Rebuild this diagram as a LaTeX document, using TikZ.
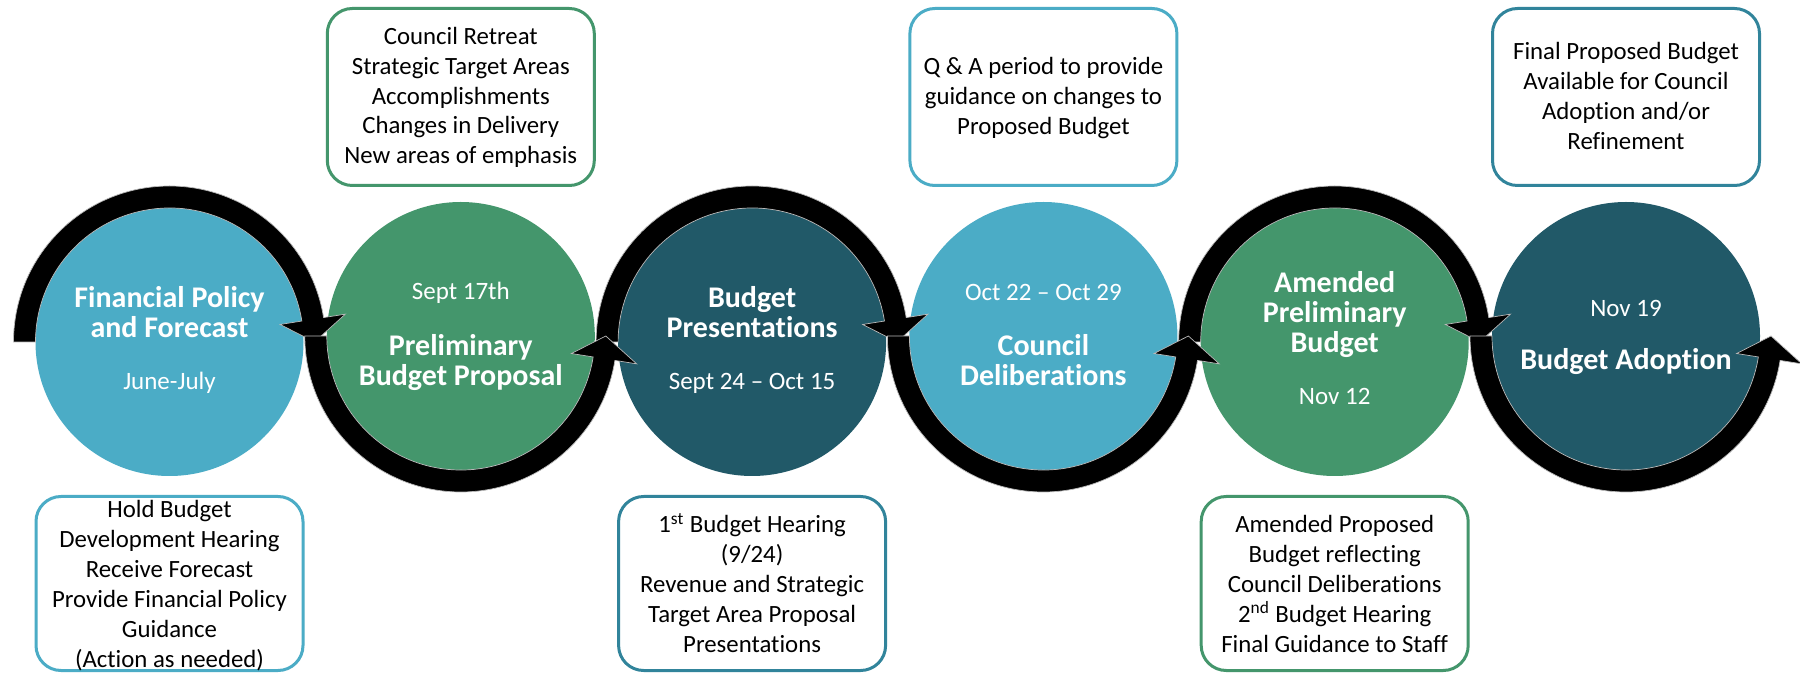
\documentclass[tikz,border=0pt]{standalone}
\usepackage{fontspec}
\setmainfont{Carlito}[Ligatures=NoCommon]
\definecolor{cblue}{HTML}{4BACC6}
\definecolor{cgreen}{HTML}{44966C}
\definecolor{cdark}{HTML}{215968}
\definecolor{cteal}{HTML}{31849B}
\tikzset{
  phase/.style={circle, minimum size=134pt, inner sep=0pt, draw=none},
  infobox/.style={draw, rounded corners=12.5pt, line width=1.5pt, minimum width=133.5pt, fill=white, inner sep=0pt},
  topbox/.style={infobox, minimum height=88.5pt},
  botbox/.style={infobox, minimum height=87pt},
  boxtext/.style={font=\fontsize{12.4}{15}\selectfont, anchor=base, inner sep=0pt},
  titletext/.style={font=\fontsize{15}{15}\selectfont\bfseries, text=white, anchor=base, inner sep=0pt},
  datetext/.style={font=\fontsize{12.5}{15}\selectfont, text=white, anchor=base, inner sep=0pt},
  ring/.style={fill=black, draw=gray!55, line width=0.35pt},
}
\begin{document}
\begin{tikzpicture}[x=0.5pt,y=-0.5pt]
\fill[white] (0,0) rectangle (1800,673);
\useasboundingbox (0,0) rectangle (1800,673);
\clip (0,0) rectangle (1800,673);

% info boxes
\node[topbox, draw=cgreen] (tb1) at (460.8,97) {};
\node[topbox, draw=cblue]  (tb2) at (1043.4,97) {};
\node[topbox, draw=cteal]  (tb3) at (1626,97) {};
\node[botbox, draw=cblue]  (bb1) at (169.5,583.5) {};
\node[botbox, draw=cteal]  (bb2) at (752.1,583.5) {};
\node[botbox, draw=cgreen] (bb3) at (1334.7,583.5) {};

\foreach \t [count=\i from 0] in {{Council Retreat},{Strategic Target Areas},{Accomplishments},{Changes in Delivery},{New areas of emphasis}}
  \node[boxtext] (tb1-\i) at (460.8,45+29.6*\i) {\t};
\foreach \t [count=\i from 0] in {{Q \& A period to provide},{guidance on changes to},{Proposed Budget}}
  \node[boxtext] (tb2-\i) at (1043.4,75+29.8*\i) {\t};
\foreach \t [count=\i from 0] in {{Final Proposed Budget},{Available for Council},{Adoption and/or},{Refinement}}
  \node[boxtext] (tb3-\i) at (1626,60+29.8*\i) {\t};
\foreach \t [count=\i from 0] in {{Hold Budget},{Development Hearing},{Receive Forecast},{Provide Financial Policy},{Guidance},{(Action as needed)}}
  \node[boxtext] (bb1-\i) at (169.5,518+29.8*\i) {\t};
\foreach \t [count=\i from 0] in {{1\textsuperscript{st} Budget Hearing},{(9/24)},{Revenue and Strategic},{Target Area Proposal},{Presentations}}
  \node[boxtext] (bb2-\i) at (752.1,533+29.8*\i) {\t};
\foreach \t [count=\i from 0] in {{Amended Proposed},{Budget reflecting},{Council Deliberations},{2\textsuperscript{nd} Budget Hearing},{Final Guidance to Staff}}
  \node[boxtext] (bb3-\i) at (1334.7,533+29.8*\i) {\t};

% phase circles
\node[phase, fill=cblue]  (c1) at (169.5,342) {};
\node[phase, fill=cgreen] (c2) at (460.8,336) {};
\node[phase, fill=cdark]  (c3) at (752.1,342) {};
\node[phase, fill=cblue]  (c4) at (1043.4,336) {};
\node[phase, fill=cgreen] (c5) at (1334.7,342) {};
\node[phase, fill=cdark]  (c6) at (1626,336) {};

% circular arrows: odd ones over the top, even ones under the bottom
\foreach \c in {c1,c3,c5}{
  \begin{scope}[shift={(\c.center)}, yscale=-1]
    \filldraw[ring] (180:156) arc[start angle=180, end angle=9, radius=156]
      -- (9:178) -- (0:145) -- (9:112) -- (9:134)
      arc[start angle=9, end angle=180, radius=134] -- cycle;
  \end{scope}
}
\foreach \c in {c2,c4,c6}{
  \begin{scope}[shift={(\c.center)}, yscale=-1]
    \filldraw[ring] (180:156) arc[start angle=180, end angle=351, radius=156]
      -- (351:178) -- (0:145) -- (351:112) -- (351:134)
      arc[start angle=351, end angle=180, radius=134] -- cycle;
  \end{scope}
}

% circle texts
\node[titletext] (c1a) at (169.5,308) {Financial Policy};
\node[titletext] (c1b) at (169.5,338) {and Forecast};
\node[datetext]  (c1d) at (169.5,390) {June-July};

\node[datetext]  (c2d) at (460.8,300) {Sept 17th};
\node[titletext] (c2a) at (460.8,356) {Preliminary};
\node[titletext] (c2b) at (460.8,386) {Budget Proposal};

\node[titletext] (c3a) at (752.1,308) {Budget};
\node[titletext] (c3b) at (752.1,338) {Presentations};
\node[datetext]  (c3d) at (752.1,390) {Sept 24 – Oct 15};

\node[datetext]  (c4d) at (1043.4,301) {Oct 22 – Oct 29};
\node[titletext] (c4a) at (1043.4,356) {Council};
\node[titletext] (c4b) at (1043.4,386) {Deliberations};

\node[titletext] (c5a) at (1334.7,293) {Amended};
\node[titletext] (c5b) at (1334.7,323) {Preliminary};
\node[titletext] (c5c) at (1334.7,353) {Budget};
\node[datetext]  (c5d) at (1334.7,405) {Nov 12};

\node[datetext]  (c6d) at (1626,317) {Nov 19};
\node[titletext] (c6a) at (1626,370) {Budget Adoption};
\end{tikzpicture}
\end{document}
